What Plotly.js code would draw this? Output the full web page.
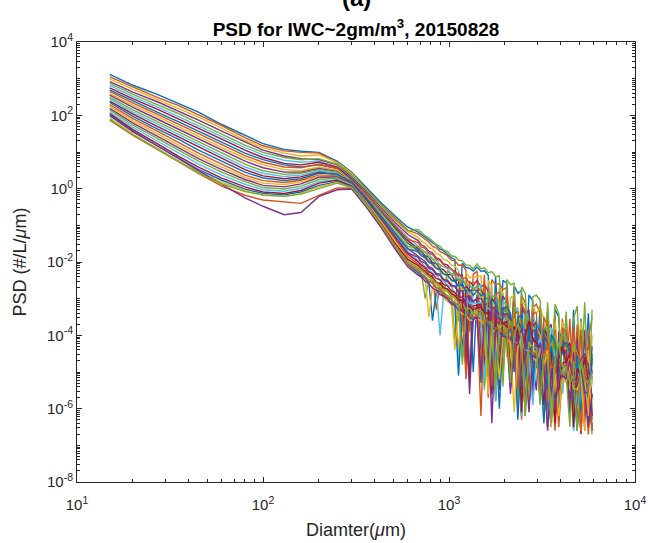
<!DOCTYPE html>
<html><head><meta charset="utf-8">
<script src="https://cdn.plot.ly/plotly-3.0.1.min.js"></script>
<style>html,body{margin:0;padding:0;background:#fff}#chart{width:648px;height:543px}</style>
</head><body><div id="chart"></div>
<script>
// Bin diameters (µm)
const diameterUm = [15,20,27,35,45,60,80,100,130,160,200,250,300,360,430,510,600,
 680,710,745,780,815,855,895,935,980,1030,1075,1125,1180,1235,1290,1350,1415,1485,1550,1625,1700,1780,1865,1950,2045,2140,2240,2345,2455,2570,2690,2820,2950,3090,3235,3390,3545,3715,3890,4070,4265,4465,4675,4890,5120,5365,5615,5880];

// Each series: log10 of PSD (#/L/µm), one value per diameter bin
const psdLog01 = [3.12,2.82,2.57,2.32,2.09,1.75,1.45,1.23,1.07,1.02,0.99,0.75,0.45,0.02,-0.38,-0.73,-1.05,
 -1.18,-1.25,-1.33,-1.40,-1.49,-1.55,-1.65,-1.69,-1.79,-1.89,-1.93,-3.6,-2.03,-2.15,-2.17,-2.25,
 -2.14,-2.25,-2.24,-2.36,-4.8,-2.40,-4.2,-2.50,-2.58,-4.4,-2.66,-2.85,-2.78,-5.2,-2.90,-3.05,
 -4.9,-3.20,-4.5,-3.35,-5.6,-3.28,-3.50,-5.3,-3.45,-5.5,-3.30,-5.9,-3.55,-5.0,-3.40,-6.2];
const psdLog02 = [3.05,2.77,2.49,2.27,2.02,1.72,1.39,1.17,1.03,0.99,0.97,0.71,0.39,-0.01,-0.43,-0.79,-1.13,
 -1.23,-1.31,-1.40,-1.46,-1.57,-1.62,-1.72,-1.76,-1.83,-1.95,-1.97,-2.09,-2.08,-2.23,-3.9,-2.33,
 -2.25,-3.8,-2.35,-4.2,-2.48,-2.62,-2.58,-2.75,-2.70,-4.9,-2.80,-5.0,-2.92,-3.10,-4.6,-3.25,
 -3.15,-3.40,-5.4,-3.35,-4.8,-3.45,-5.8,-3.55,-5.2,-3.55,-5.6,-3.70,-6.0,-3.85,-4.10,-3.50];
const psdLog03 = [2.99,2.71,2.43,2.19,1.95,1.65,1.32,1.12,0.97,0.89,0.92,0.72,0.42,-0.05,-0.48,-0.85,-1.18,
 -1.33,-1.43,-1.49,-1.60,-1.65,-1.77,-1.81,-1.93,-1.96,-2.08,-2.11,-2.23,-3.9,-2.29,-2.43,-2.41,
 -2.40,-2.38,-4.3,-2.50,-2.65,-5.1,-2.70,-2.85,-4.6,-2.98,-2.90,-5.3,-3.02,-3.22,-5.5,-3.20,
 -3.40,-3.25,-3.55,-5.0,-5.7,-3.60,-5.1,-3.65,-3.75,-6.1,-3.85,-5.2,-3.60,-5.4,-6.4,-4.00];
const psdLog04 = [2.92,2.63,2.37,2.12,1.87,1.57,1.27,1.05,0.89,0.82,0.79,0.65,0.32,-0.08,-0.51,-0.91,-1.25,
 -1.41,-1.53,-1.59,-1.71,-1.75,-1.89,-1.93,-2.05,-2.08,-2.21,-2.25,-2.38,-2.35,-4.4,-2.53,-2.65,
 -2.50,-2.68,-2.62,-2.80,-5.3,-2.85,-4.6,-2.92,-3.10,-4.4,-3.25,-5.6,-3.20,-3.45,-3.30,-4.8,
 -5.5,-3.70,-5.2,-3.85,-3.70,-6.0,-3.90,-4.10,-5.3,-4.25,-5.9,-4.10,-6.1,-3.90,-5.6,-4.30];
const psdLog05 = [2.87,2.57,2.29,2.05,1.79,1.49,1.19,0.99,0.85,0.79,0.82,0.67,0.37,-0.03,-0.45,-0.83,-1.15,
 -1.11,-1.19,-1.29,-1.34,-1.43,-1.53,-1.57,-1.67,-1.71,-1.83,-1.85,-1.95,-1.97,-2.08,-2.09,-2.19,
 -2.05,-2.18,-2.16,-2.30,-2.26,-2.40,-2.38,-4.5,-2.48,-2.62,-2.58,-4.9,-2.68,-2.85,-4.7,-2.95,
 -2.90,-3.05,-5.3,-3.10,-4.9,-3.15,-3.40,-5.5,-3.35,-6.0,-3.55,-3.20,-5.2,-3.10,-5.8,-3.30];
const psdLog06 = [2.82,2.51,2.23,1.97,1.72,1.42,1.12,0.92,0.77,0.72,0.75,0.59,0.29,-0.11,-0.55,-0.98,-1.33,
 -1.55,-1.63,-1.73,-1.78,-1.91,-1.95,-2.08,-2.13,-2.18,-2.33,-2.31,-2.48,-2.43,-2.63,-4.9,-2.68,
 -2.70,-2.62,-4.5,-2.78,-2.95,-2.88,-5.4,-3.05,-3.20,-4.7,-3.35,-3.25,-5.8,-3.40,-5.6,-3.45,
 -3.70,-5.0,-3.85,-6.2,-3.80,-4.05,-5.3,-4.20,-4.05,-4.35,-5.7,-4.50,-6.3,-4.40,-6.0,-4.70];
const psdLog07 = [2.75,2.45,2.17,1.91,1.65,1.35,1.05,0.85,0.69,0.65,0.72,0.59,0.27,-0.13,-0.58,-1.03,-1.41,
 -1.65,-1.71,-1.83,-1.87,-2.01,-2.05,-2.18,-2.21,-2.33,-2.35,-2.51,-2.48,-4.6,-2.63,-2.79,-2.75,
 -2.78,-2.75,-2.92,-5.5,-2.98,-3.12,-4.8,-3.25,-3.30,-5.0,-3.42,-3.35,-4.9,-6.0,-3.60,-3.75,
 -3.65,-5.2,-3.80,-4.05,-6.3,-4.00,-5.8,-4.10,-4.35,-4.20,-6.5,-4.40,-4.60,-5.6,-4.75,-6.6];
const psdLog08 = [2.69,2.39,2.09,1.83,1.57,1.27,0.97,0.79,0.65,0.59,0.65,0.55,0.25,-0.18,-0.63,-1.08,-1.48,
 -1.69,-1.79,-1.85,-1.97,-2.03,-2.17,-2.19,-2.33,-2.35,-2.51,-2.53,-2.68,-2.63,-2.83,-2.78,-5.0,
 -2.88,-4.4,-3.02,-2.98,-3.18,-5.6,-3.22,-3.38,-3.30,-3.50,-4.8,-3.65,-6.1,-3.68,-3.85,-5.4,
 -3.95,-5.2,-4.10,-5.5,-4.30,-6.4,-4.25,-4.50,-4.40,-5.8,-4.50,-6.5,-4.70,-4.55,-5.9,-4.60];
const psdLog09 = [2.65,2.33,2.03,1.77,1.50,1.20,0.90,0.72,0.59,0.57,0.67,0.55,0.22,-0.15,-0.58,-1.01,-1.38,
 -1.47,-1.59,-1.63,-1.76,-1.80,-1.93,-1.96,-2.08,-2.15,-2.18,-2.33,-2.31,-2.45,-2.43,-2.58,-2.57,
 -2.55,-4.3,-2.62,-2.75,-4.0,-2.88,-2.82,-5.2,-2.95,-4.5,-3.05,-4.7,-3.15,-3.35,-5.7,-3.38,
 -3.40,-5.6,-3.50,-3.75,-5.1,-3.85,-6.0,-3.80,-3.90,-5.0,-3.75,-5.5,-3.85,-6.2,-4.00,-6.3];
const psdLog10 = [2.59,2.27,1.97,1.69,1.43,1.12,0.83,0.65,0.52,0.49,0.59,0.51,0.19,-0.21,-0.68,-1.13,-1.55,
 -1.75,-1.81,-1.93,-1.98,-2.11,-2.15,-2.28,-2.31,-2.43,-2.45,-4.2,-2.61,-2.75,-2.73,-2.89,-2.87,
 -2.88,-2.85,-3.02,-5.3,-3.08,-3.22,-4.9,-3.35,-3.40,-4.8,-3.52,-5.9,-3.55,-3.72,-5.3,-3.85,
 -3.78,-4.00,-5.4,-4.15,-6.2,-4.10,-4.35,-5.6,-4.30,-5.5,-4.25,-6.4,-4.55,-5.7,-4.40,-6.0];
const psdLog11 = [2.55,2.22,1.90,1.63,1.35,1.05,0.75,0.57,0.45,0.45,0.55,0.47,0.17,-0.23,-0.73,-1.21,-1.63,
 -1.85,-1.93,-1.99,-2.13,-2.17,-2.31,-2.33,-2.47,-2.49,-2.63,-2.65,-2.81,-2.78,-4.8,-2.95,-3.08,
 -3.02,-4.6,-3.18,-3.12,-5.6,-3.30,-3.45,-3.38,-3.55,-3.45,-5.0,-3.62,-3.80,-6.2,-3.85,-5.8,
 -4.05,-5.3,-4.25,-5.6,-6.5,-4.35,-4.50,-4.40,-4.50,-4.72,-5.9,-4.85,-4.70,-6.6,-4.95,-6.2];
const psdLog12 = [2.49,2.15,1.83,1.55,1.27,0.97,0.67,0.49,0.39,0.42,0.52,0.45,0.17,-0.25,-0.71,-1.18,-1.58,
 -1.57,-1.69,-1.73,-1.86,-1.91,-2.03,-2.07,-3.0,-2.23,-2.35,-2.37,-2.51,-2.48,-2.65,-2.63,-2.77,
 -2.65,-2.78,-4.5,-2.84,-2.98,-2.92,-3.10,-5.4,-3.12,-5.1,-3.22,-3.40,-5.8,-3.45,-3.60,-4.9,
 -3.70,-5.5,-3.85,-3.75,-6.1,-3.98,-5.0,-3.95,-4.10,-6.3,-4.25,-4.45,-5.4,-4.55,-6.1,-4.65];
const psdLog13 = [2.45,2.09,1.77,1.49,1.20,0.89,0.59,0.42,0.33,0.37,0.49,0.42,0.19,-0.28,-0.78,-1.28,-1.71,
 -1.95,-2.01,-2.13,-2.19,-2.31,-2.35,-2.49,-2.53,-2.63,-2.68,-2.83,-4.7,-2.97,-2.98,-3.13,-3.11,
 -3.12,-3.10,-5.5,-3.25,-3.40,-4.7,-3.55,-3.50,-3.65,-5.4,-3.80,-6.0,-3.82,-4.00,-5.2,-4.12,
 -4.05,-4.28,-5.9,-4.45,-6.4,-4.40,-4.62,-5.6,-4.60,-4.85,-6.6,-4.80,-5.9,-4.75,-5.15,-4.90];
const psdLog14 = [2.39,2.03,1.70,1.42,1.13,0.82,0.52,0.35,0.27,0.32,0.45,0.39,0.17,-0.31,-0.83,-1.33,-1.78,
 -1.99,-2.08,-2.15,-2.27,-2.32,-2.45,-2.49,-2.61,-2.65,-2.79,-2.83,-2.97,-2.95,-3.13,-5.2,-3.19,
 -3.18,-3.15,-4.9,-3.30,-3.48,-5.8,-3.52,-3.68,-3.62,-5.0,-3.75,-3.95,-6.2,-3.98,-5.6,-4.05,
 -4.25,-5.3,-4.42,-6.5,-4.45,-4.65,-5.5,-4.78,-4.70,-6.0,-4.75,-5.05,-6.7,-5.00,-5.8,-4.95];
const psdLog15 = [2.35,1.97,1.63,1.35,1.05,0.75,0.45,0.29,0.22,0.27,0.42,0.39,0.19,-0.27,-0.75,-1.23,-1.65,
 -1.71,-1.83,-1.88,-2.01,-2.05,-2.18,-2.21,-2.33,-2.35,-2.49,-2.51,-2.65,-2.61,-2.79,-2.75,-2.91,
 -2.78,-2.92,-2.86,-4.9,-3.00,-3.15,-5.0,-3.28,-3.22,-3.40,-4.6,-3.52,-3.45,-5.6,-3.62,-5.3,
 -3.70,-5.5,-3.85,-6.0,-3.98,-4.18,-5.2,-4.28,-4.20,-4.45,-5.6,-4.55,-6.2,-4.68,-6.4,-4.50];
const psdLog16 = [2.29,1.91,1.57,1.27,0.97,0.67,0.37,0.22,0.17,0.23,0.37,0.35,0.15,-0.33,-0.85,-1.38,-1.85,
 -2.05,-2.13,-2.19,-2.33,-2.37,-3.3,-2.55,-2.68,-2.75,-2.81,-2.95,-2.93,-3.13,-4.9,-3.25,-3.23,
 -3.25,-4.8,-3.40,-5.7,-3.45,-3.62,-3.58,-3.75,-3.80,-5.2,-3.95,-3.90,-6.3,-4.08,-5.7,-4.15,
 -4.22,-5.3,-4.38,-5.8,-4.50,-6.6,-4.70,-4.85,-4.80,-5.00,-6.1,-5.15,-4.95,-5.30,-6.7,-5.10];
const psdLog17 = [2.25,1.85,1.50,1.20,0.89,0.59,0.31,0.15,0.11,0.19,0.35,0.33,0.13,-0.35,-0.88,-1.43,-1.91,
 -2.15,-2.23,-2.29,-2.43,-2.47,-2.61,-2.65,-2.78,-2.81,-2.95,-2.98,-4.4,-3.13,-3.28,-3.25,-3.43,
 -3.35,-5.0,-3.50,-3.45,-5.9,-3.65,-3.80,-3.72,-3.80,-4.00,-3.92,-6.1,-4.10,-5.6,-4.18,-4.40,
 -4.45,-5.7,-4.60,-6.5,-4.65,-4.85,-6.0,-4.95,-4.90,-4.5,-4.95,-5.25,-6.6,-5.20,-6.2,-5.15];
const psdLog18 = [2.19,1.79,1.43,1.13,0.82,0.52,0.25,0.09,0.05,0.13,0.31,0.32,0.15,-0.31,-0.81,-1.31,-1.75,
 -1.87,-1.99,-2.03,-2.17,-2.21,-2.34,-2.37,-2.49,-2.53,-2.65,-2.68,-2.81,-4.5,-2.95,-2.93,-3.08,
 -2.98,-3.00,-3.14,-4.7,-3.26,-3.24,-5.5,-3.45,-3.40,-3.58,-4.9,-3.70,-5.5,-3.82,-6.0,-3.85,
 -3.88,-5.8,-4.00,-4.20,-5.4,-6.3,-4.30,-4.45,-4.40,-6.1,-4.45,-6.5,-4.65,-4.50,-4.85,-5.7];
const psdLog19 = [2.15,1.73,1.37,1.05,0.75,0.45,0.19,0.03,-0.01,0.07,0.25,0.29,0.11,-0.38,-0.93,-1.51,-1.98,
 -2.19,-2.28,-3.0,-2.48,-2.53,-2.67,-2.71,-2.83,-2.91,-2.99,-4.1,-3.13,-3.25,-3.28,-3.41,-3.43,
 -3.40,-3.42,-5.4,-3.58,-3.70,-5.0,-3.85,-3.84,-3.98,-3.6,-4.12,-6.0,-4.20,-4.35,-5.7,-4.48,
 -4.45,-4.62,-6.3,-4.70,-4.2,-4.80,-6.0,-4.95,-5.10,-6.5,-4.7,-5.25,-5.40,-4.8,-5.55,-6.7];
const psdLog20 = [2.09,1.67,1.30,0.97,0.67,0.37,0.12,-0.03,-0.07,0.01,0.19,0.25,0.09,-0.41,-0.98,-1.55,-2.03,
 -2.25,-2.33,-2.39,-2.53,-2.58,-2.71,-4.0,-2.89,-2.97,-3.05,-3.11,-3.23,-4.6,-3.39,-3.43,-3.53,
 -3.45,-3.50,-5.2,-3.64,-3.78,-5.8,-3.90,-3.92,-4.05,-3.7,-4.20,-4.22,-6.2,-4.40,-4.42,-5.9,
 -4.60,-4.1,-4.78,-6.5,-4.92,-6.2,-5.05,-5.10,-5.15,-4.6,-6.6,-5.35,-4.8,-5.50,-5.60,-5.0];
const psdLog21 = [2.05,1.61,1.23,0.89,0.59,0.29,0.05,-0.09,-0.13,-0.05,0.15,0.23,0.07,-0.43,-0.95,-1.48,-1.93,
 -2.09,-2.18,-2.25,-2.37,-2.41,-2.55,-2.59,-2.71,-2.73,-2.88,-2.91,-3.05,-3.03,-5.0,-3.21,-3.31,
 -3.25,-3.22,-3.40,-3.38,-5.6,-3.55,-5.1,-3.64,-3.78,-5.4,-3.92,-3.88,-6.1,-4.05,-3.6,-4.12,
 -4.20,-4.38,-5.9,-4.52,-4.45,-6.4,-4.65,-4.30,-4.75,-4.5,-6.5,-4.90,-5.10,-4.6,-5.25,-5.00];
const psdLog22 = [1.99,1.55,1.17,0.83,0.52,0.23,-0.01,-0.13,-0.17,-0.09,0.09,0.19,0.05,-0.45,-1.01,-1.58,-2.08,
 -2.29,-2.38,-2.45,-2.58,-3.6,-2.77,-2.81,-2.93,-3.01,-3.11,-3.15,-5.1,-3.35,-3.38,-3.53,-3.53,
 -3.50,-5.3,-3.66,-3.68,-3.80,-3.82,-6.0,-3.98,-4.06,-3.8,-4.22,-6.3,-4.35,-5.8,-4.45,-4.56,
 -4.60,-4.65,-6.4,-4.85,-4.3,-4.95,-6.1,-5.08,-5.18,-4.7,-5.35,-6.6,-5.0,-5.55,-5.58,-6.5];
const psdLog23 = [1.87,1.45,1.07,0.73,0.42,0.07,-0.18,-0.31,-0.35,-0.40,-0.18,0.02,0.02,-0.46,-0.99,-1.55,-2.05,
 -2.23,-2.33,-2.40,-2.53,-2.57,-2.71,-2.75,-2.87,-2.95,-3.03,-3.13,-3.17,-3.31,-5.2,-3.43,-3.51,
 -3.44,-6.2,-3.58,-3.62,-5.4,-3.78,-3.88,-3.90,-4.00,-3.7,-4.15,-5.5,-4.30,-6.0,-4.42,-4.48,
 -4.55,-5.8,-4.70,-4.2,-4.86,-4.90,-6.5,-5.05,-5.10,-4.6,-5.25,-5.28,-6.6,-4.9,-5.50,-6.6];
const psdLog24 = [1.93,1.49,1.09,0.75,0.45,0.17,-0.05,-0.18,-0.21,-0.13,0.05,0.17,0.03,-0.48,-1.03,-1.61,-2.11,
 -2.35,-2.43,-2.49,-3.5,-2.67,-2.81,-2.85,-2.99,-3.07,-3.15,-4.4,-3.33,-3.41,-3.45,-3.59,-3.59,
 -3.56,-3.60,-3.72,-5.6,-3.86,-3.90,-5.2,-4.02,-4.12,-4.18,-6.1,-4.35,-3.9,-4.48,-5.9,-4.60,
 -4.70,-4.3,-4.86,-4.4,-6.5,-5.05,-6.2,-5.18,-5.28,-4.8,-5.45,-5.48,-5.0,-6.6,-5.70,-5.2];
const psdLog25 = [2.02,1.57,1.17,0.82,0.49,0.12,-0.25,-0.48,-0.71,-0.65,-0.21,-0.03,-0.01,-0.51,-1.05,-1.63,-2.13,
 -2.35,-2.41,-2.53,-2.59,-2.71,-2.77,-2.89,-2.93,-3.01,-3.15,-3.18,-3.31,-3.33,-3.47,-5.6,-3.57,
 -3.52,-5.0,-3.66,-3.72,-6.4,-3.88,-3.92,-4.02,-4.08,-5.6,-4.22,-4.26,-3.8,-4.42,-6.1,-4.55,
 -4.62,-4.2,-4.80,-6.6,-4.92,-6.0,-5.05,-5.12,-5.18,-4.7,-5.35,-5.38,-4.9,-5.55,-6.5,-5.60];
const psdLog26 = [1.89,1.47,1.09,0.75,0.43,0.13,-0.08,-0.17,-0.21,-0.15,0.01,0.15,0.03,-0.43,-0.97,-1.53,-2.01,
 -2.15,-2.21,-2.33,-2.39,-2.51,-2.57,-2.69,-2.73,-2.79,-2.93,-2.97,-3.11,-4.8,-3.25,-3.27,-3.39,
 -3.30,-3.32,-3.45,-5.1,-3.60,-5.5,-3.72,-3.74,-3.82,-5.3,-3.98,-3.7,-4.12,-6.2,-4.22,-4.30,
 -4.35,-5.9,-4.52,-4.55,-6.4,-4.72,-4.2,-4.85,-4.90,-5.3,-5.08,-6.6,-4.7,-5.25,-5.28,-5.0];

const xTickVals = [10,100,1000,10000];
const xTickText = ['10<sup>1</sup>','10<sup>2</sup>','10<sup>3</sup>','10<sup>4</sup>'];
const yTickVals = [1e-8,1e-6,1e-4,1e-2,1,1e2,1e4];
const yTickText = ['10<sup>-8</sup>','10<sup>-6</sup>','10<sup>-4</sup>','10<sup>-2</sup>','10<sup>0</sup>','10<sup>2</sup>','10<sup>4</sup>'];

const allSeries = [psdLog01,psdLog02,psdLog03,psdLog04,psdLog05,psdLog06,psdLog07,psdLog08,psdLog09,psdLog10,
 psdLog11,psdLog12,psdLog13,psdLog14,psdLog15,psdLog16,psdLog17,psdLog18,psdLog19,psdLog20,
 psdLog21,psdLog22,psdLog23,psdLog24,psdLog25,psdLog26];
const matlabColors = ['#0072BD','#D95319','#EDB120','#7E2F8E','#77AC30','#4DBEEE','#A2142F'];

const traces = allSeries.map((s, i) => ({
  x: diameterUm.slice(0, s.length),
  y: s.map(v => Math.pow(10, v)),
  type: 'scatter', mode: 'lines',
  line: {color: matlabColors[i % 7], width: 1.4},
  hoverinfo: 'skip', showlegend: false
}));

const fontFam = 'Liberation Sans, Arial, Helvetica, sans-serif';
const axisBase = {
  type: 'log', showline: true, linecolor: '#262626', linewidth: 1, mirror: 'allticks',
  ticks: 'inside', ticklen: 5, tickwidth: 1, tickcolor: '#262626',
  showgrid: false, zeroline: false, tickmode: 'array', automargin: false,
  tickfont: {family: fontFam, size: 15, color: '#262626'},
  minor: {ticks: 'inside', ticklen: 3, tickwidth: 1, tickcolor: '#262626', dtick: 'D1', showgrid: false}
};

const layout = {
  width: 648, height: 543,
  paper_bgcolor: '#ffffff', plot_bgcolor: '#ffffff',
  margin: {l: 77, r: 13, t: 42, b: 61},
  title: {text: '<b>PSD for IWC~2gm/m<sup>3</sup>, 20150828</b>', font: {family: fontFam, size: 19, color: '#000'},
          x: 0.5, xref: 'paper', y: 1 - 29/543, yref: 'container', yanchor: 'middle'},
  xaxis: Object.assign({}, axisBase, {range: [1, 4], tickvals: xTickVals, ticktext: xTickText, ticklabelstandoff: 9,
    title: {text: 'Diamter(<i>μ</i>m)', font: {family: fontFam, size: 18, color: '#262626'}, standoff: 11}}),
  yaxis: Object.assign({}, axisBase, {range: [-8, 4], tickvals: yTickVals, ticktext: yTickText,
    title: {text: 'PSD (#/L/<i>μ</i>m)', font: {family: fontFam, size: 18, color: '#262626'}, standoff: 15}}),
  annotations: [{text: '<b>(a)</b>', xref: 'paper', yref: 'paper', x: 0.5, y: 1 + 44/440, yanchor: 'middle',
    showarrow: false, font: {family: fontFam, size: 24, color: '#000'}}]
};

Plotly.newPlot('chart', traces, layout, {displayModeBar: false, staticPlot: true});
</script></body></html>
